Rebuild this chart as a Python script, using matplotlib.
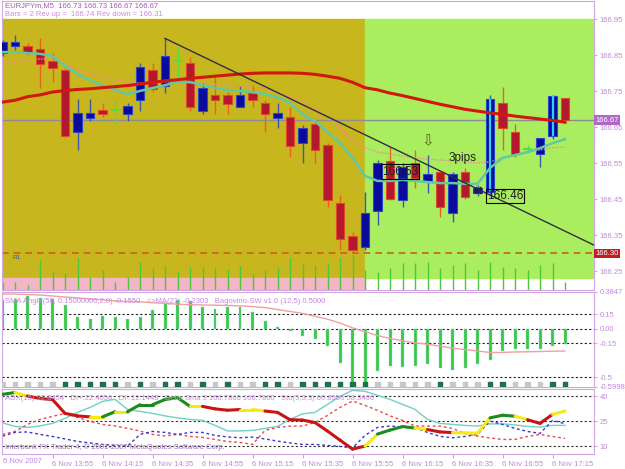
import numpy as np
import matplotlib.pyplot as plt
from matplotlib.patches import Rectangle

plt.rcParams['font.family'] = ['Liberation Sans', 'DejaVu Sans']

# EURJPYm M5, 6 Nov 2007 (bar 0 = 13:35)
opens = [166.856, 166.877, 166.877, 166.867, 166.835, 166.809, 166.637, 166.677, 166.698, 166.698,
         166.687, 166.726, 166.809, 166.766, 166.835, 166.828, 166.696, 166.739, 166.739, 166.706,
         166.746, 166.717, 166.677, 166.678, 166.607, 166.659, 166.601, 166.440, 166.349, 166.318,
         166.418, 166.557, 166.448, 166.550, 166.499, 166.527, 166.411, 166.527, 166.468, 166.471,
         166.717, 166.638, 166.589, 166.576, 166.627, 166.730]
highs = [166.893, 166.906, 166.883, 166.897, 166.856, 166.814, 166.728, 166.728, 166.717, 166.726,
         166.717, 166.828, 166.828, 166.897, 166.869, 166.846, 166.772, 166.791, 166.749, 166.765,
         166.768, 166.726, 166.717, 166.706, 166.656, 166.666, 166.606, 166.462, 166.360, 166.471,
         166.559, 166.596, 166.550, 166.587, 166.573, 166.531, 166.526, 166.537, 166.490, 166.740,
         166.761, 166.659, 166.601, 166.619, 166.740, 166.730]
lows = [166.848, 166.865, 166.851, 166.758, 166.777, 166.624, 166.587, 166.668, 166.678, 166.656,
        166.668, 166.696, 166.749, 166.746, 166.781, 166.696, 166.687, 166.687, 166.687, 166.706,
        166.706, 166.638, 166.647, 166.568, 166.551, 166.550, 166.429, 166.309, 166.300, 166.310,
        166.379, 166.448, 166.429, 166.481, 166.468, 166.400, 166.388, 166.450, 166.459, 166.460,
        166.587, 166.568, 166.579, 166.541, 166.617, 166.670]
closes = [166.886, 166.886, 166.856, 166.826, 166.816, 166.626, 166.689, 166.689, 166.687, 166.698,
          166.709, 166.818, 166.756, 166.848, 166.835, 166.706, 166.758, 166.726, 166.715, 166.739,
          166.726, 166.687, 166.689, 166.598, 166.649, 166.587, 166.448, 166.340, 166.309, 166.412,
          166.550, 166.451, 166.539, 166.508, 166.519, 166.428, 166.519, 166.457, 166.481, 166.729,
          166.647, 166.576, 166.589, 166.619, 166.738, 166.670]
signal_bars = [39, 44]

ma_red = [166.720, 166.725, 166.735, 166.740, 166.748, 166.752, 166.755, 166.757, 166.760, 166.763,
          166.766, 166.770, 166.775, 166.779, 166.782, 166.786, 166.789, 166.792, 166.795, 166.798,
          166.800, 166.801, 166.801, 166.801, 166.800, 166.797, 166.792, 166.786, 166.775, 166.760,
          166.754, 166.745, 166.738, 166.730, 166.722, 166.714, 166.707, 166.700, 166.695, 166.690,
          166.686, 166.681, 166.677, 166.673, 166.669, 166.664]
ma_teal = [166.859, 166.859, 166.856, 166.854, 166.848, 166.820, 166.798, 166.781, 166.767, 166.754,
           166.742, 166.751, 166.759, 166.767, 166.776, 166.776, 166.767, 166.759, 166.754, 166.751,
           166.748, 166.742, 166.734, 166.717, 166.687, 166.667, 166.637, 166.606, 166.565, 166.515,
           166.501, 166.501, 166.504, 166.501, 166.498, 166.495, 166.495, 166.493, 166.493, 166.537,
           166.565, 166.573, 166.581, 166.592, 166.606, 166.617]
ma_pink = [166.826, 166.831, 166.837, 166.840, 166.840, 166.826, 166.809, 166.798, 166.790, 166.781,
           166.776, 166.773, 166.773, 166.776, 166.776, 166.773, 166.773, 166.770, 166.767, 166.765,
           166.762, 166.756, 166.748, 166.734, 166.723, 166.703, 166.676, 166.648, 166.615, 166.593,
           166.581, 166.576, 166.570, 166.565, 166.562, 166.559, 166.556, 166.554, 166.551, 166.554,
           166.565, 166.573, 166.581, 166.587, 166.593, 166.595]
volume = [8, 8, 5, 30, 18, 17, 32, 13, 20, 8, 13, 28, 22, 25, 18, 23, 23, 23, 21, 24,
          17, 20, 23, 33, 27, 25, 27, 32, 35, 20, 18, 22, 27, 27, 28, 22, 25, 27, 20, 28,
          23, 22, 20, 25, 27, 8]

bid_price = 166.67
r1_price = 166.30
price_ticks = [166.95, 166.85, 166.75, 166.65, 166.55, 166.45, 166.35, 166.25]
trend_x = [13, 47.3]
trend_p = [166.897, 166.323]

# SMA angle panel
angle_hist = [0.296, 0.313, 0.340, 0.320, 0.307, 0.252, 0.126, 0.102, 0.133, 0.119,
              0.102, 0.126, 0.194, 0.255, 0.296, 0.286, 0.221, 0.204, 0.228, 0.228,
              0.170, 0.082, 0.017, -0.027, -0.078, -0.102, -0.173, -0.350, -0.580, -0.5998,
              -0.442, -0.384, -0.394, -0.384, -0.367, -0.411, -0.428, -0.401, -0.367, -0.326,
              -0.231, -0.204, -0.214, -0.204, -0.180, -0.155]
angle_ma = [0.360, 0.360, 0.355, 0.350, 0.340, 0.330, 0.320, 0.310, 0.300, 0.290,
            0.285, 0.280, 0.270, 0.265, 0.255, 0.250, 0.247, 0.245, 0.242, 0.238,
            0.230, 0.220, 0.200, 0.180, 0.160, 0.130, 0.100, 0.060, 0.010, -0.030,
            -0.070, -0.100, -0.125, -0.145, -0.160, -0.180, -0.200, -0.215, -0.230, -0.245,
            -0.245, -0.240, -0.238, -0.235, -0.232, -0.230]
sw_state = [0, 0, 0, 0, 0, 1, 1, 1, 1, 1, 0, 1, 0, 1, 1, 0, 1, 0, 1, 0,
            0, 1, 1, 0, 1, 1, 1, 1, 1, 1, 0, 0, 0, 0, 0, 1, 0, 0, 0, 1,
            1, 0, 0, 0, 1, 1]
angle_levels = [0.15, 0.0, -0.15, -0.5]
angle_ticks = [0.3847, 0.15, 0.0, -0.15, -0.5, -0.5998]
angle_labels = ['0.3847', '0.15', '0.00', '-0.15', '-0.5', '-0.5998']

# ADX panel
adx = [41.0, 42.1, 40.0, 38.5, 37.9, 29.6, 28.1, 27.5, 27.5, 30.6,
       30.6, 34.8, 34.8, 37.9, 39.0, 33.8, 33.8, 32.3, 31.5, 31.9,
       31.9, 31.0, 30.2, 25.8, 25.6, 24.1, 19.0, 13.6, 8.2, 10.0,
       17.2, 19.6, 21.7, 20.8, 19.9, 18.5, 18.1, 17.9, 17.8, 26.9,
       28.5, 27.9, 25.8, 23.6, 29.0, 31.0]
adx_trend = "gyrrrrrygygggggyrrryyrrrrrrrrygggyrryyyggyrryg"
di_plus = [23.9, 21.8, 21.2, 22.1, 23.6, 26.6, 30.2, 33.2, 36.8, 38.0,
           32.0, 30.8, 29.6, 28.1, 26.9, 26.0, 25.4, 22.4, 19.1, 19.1,
           19.4, 20.6, 21.8, 26.0, 29.3, 30.2, 35.0, 39.8, 43.4, 42.8,
           40.4, 38.0, 35.0, 32.0, 26.0, 23.6, 23.0, 22.4, 22.0, 23.3,
           23.3, 22.7, 21.8, 21.4, 22.4, 22.4]
di_minus = [17.0, 18.8, 23.0, 26.0, 27.8, 29.6, 27.2, 24.8, 23.0, 22.1,
            20.6, 19.0, 17.0, 16.1, 17.0, 15.8, 15.2, 14.0, 12.8, 12.2,
            11.0, 19.4, 21.2, 22.0, 22.0, 24.2, 28.4, 33.2, 37.0, 34.4,
            31.4, 28.1, 25.4, 22.0, 22.0, 22.0, 20.6, 17.6, 16.0, 14.9,
            14.0, 14.0, 15.8, 17.0, 15.8, 14.6]
sto_line = [16.0, 18.2, 18.5, 17.0, 15.8, 14.3, 12.8, 11.9, 11.0, 10.4,
            10.0, 17.0, 18.8, 18.2, 17.0, 18.2, 18.2, 16.4, 15.5, 15.0,
            15.4, 14.3, 13.0, 11.9, 11.0, 11.0, 10.4, 9.8, 9.0, 16.4,
            21.2, 22.0, 21.5, 21.0, 18.2, 15.8, 15.0, 15.8, 17.0, 25.0,
            23.0, 20.6, 18.8, 17.6, 25.4, 23.4]
adx_levels = [40, 25, 10]

time_bars = [4, 8, 12, 16, 20, 24, 28, 32, 36, 40, 44]
time_labels = ['6 Nov 13:55', '6 Nov 14:15', '6 Nov 14:35', '6 Nov 14:55', '6 Nov 15:15',
               '6 Nov 15:35', '6 Nov 15:55', '6 Nov 16:15', '6 Nov 16:35', '6 Nov 16:55',
               '6 Nov 17:15']

# colours
LAB = '#c585dc'
FRAME = '#d2a6e2'
YELLOW = '#c8b61e'
GREEN = '#aaee60'
PINK = '#f2b6c6'
UP = '#0a0a9c'
DOWN = '#b4182e'

W, H = 625, 469


def panel(top, bottom, left=2, right=594):
    return fig.add_axes([left / W, 1 - bottom / H, (right - left) / W, (bottom - top) / H])


fig = plt.figure(figsize=(6.25, 4.69), dpi=100)
ax = panel(1.3, 290)
ax2 = panel(291.7, 386.7)
ax3 = panel(389, 454.3)

x = np.arange(len(opens))
x0, x1 = -0.04, 47.32
p_lo, p_hi = 166.198, 167.0
box_top, strip_top, split = 166.95, 166.232, 29

for a in (ax, ax2, ax3):
    a.set_xlim(x0, x1)
    for s in a.spines.values():
        s.set_color(FRAME)
    a.yaxis.tick_right()
    a.tick_params(axis='y', colors=FRAME, labelcolor=LAB, labelsize=5.5, length=2, pad=2)
    a.tick_params(axis='x', bottom=False, labelbottom=False)

# ---- main price panel ----
ax.set_ylim(p_lo, p_hi)
ax.add_patch(Rectangle((x0, strip_top), split - x0, box_top - strip_top, color=YELLOW, zorder=0))
ax.add_patch(Rectangle((x0, p_lo), split - x0, strip_top - p_lo, color=PINK, zorder=0))
ax.add_patch(Rectangle((split, strip_top), x1 - split, box_top - strip_top, color=GREEN, zorder=0))

ax.vlines(x, 0, np.array(volume) / 288.7, transform=ax.get_xaxis_transform(),
          color='#4cc83c', lw=1, zorder=1)
ax.axhline(bid_price, color='#8c8c9c', lw=1, zorder=1)
ax.axhline(r1_price, color='#c8601e', lw=1.2, ls=(0, (4, 3)), zorder=1)

for i in x:
    o, h, l, c = opens[i], highs[i], lows[i], closes[i]
    if c > o:
        ax.vlines(i, l, h, color='#3c58a8', lw=1, zorder=3)
        ax.add_patch(Rectangle((i - 0.33, o), 0.66, c - o, facecolor=UP,
                               edgecolor='#2a48c8', lw=0.8, zorder=4))
        if i in signal_bars:
            ax.vlines(i, o, c, color='#20d8ff', lw=1.6, zorder=5)
    elif c < o:
        ax.vlines(i, l, h, color='#e8641c', lw=1, zorder=3)
        ax.add_patch(Rectangle((i - 0.33, c), 0.66, o - c, facecolor=DOWN,
                               edgecolor='#e04a28', lw=0.8, zorder=4))
    else:
        ax.vlines(i, l, h, color='#50e040', lw=1, zorder=3)
        ax.hlines(c, i - 0.33, i + 0.33, color='#50e040', lw=1.4, zorder=4)

ax.plot(x, ma_pink, color='#f08a8a', lw=1, ls=(0, (1, 1)), zorder=6)
ax.plot(x, ma_teal, color='#62c8a2', lw=1.8, zorder=6)
ax.plot(x, ma_red, color='#d0180c', lw=2.2, zorder=6)
ax.plot(trend_x, trend_p, color='#303040', lw=1, zorder=7)

ax.text(30.35, 166.527, '166.53', fontsize=8.5, color='#202020', va='center', zorder=8,
        bbox=dict(boxstyle='square,pad=0.1', fc='none', ec='black', lw=0.8))
ax.text(38.75, 166.459, '166.46', fontsize=8.5, color='#202020', va='center', zorder=8,
        bbox=dict(boxstyle='square,pad=0.1', fc='none', ec='black', lw=0.8))
ax.text(35.7, 166.566, '3pips', fontsize=8.5, color='#202020', va='center', zorder=8)
ax.text(34, 166.612, '\u21e9', fontsize=11, color='#5a6418', ha='center', va='center',
        family='DejaVu Sans', zorder=8)
ax.plot([38], [166.476], marker='x', ms=5, mew=2, color='#202048', zorder=8)
ax.text(0.8, 166.288, 'R1', fontsize=4.5, color='#3850a0', va='center', zorder=8)

ax.set_yticks(price_ticks)
ax.set_yticklabels([f'{p:.2f}' for p in price_ticks])
ax.text(1.002, bid_price, f'{bid_price:.2f}', transform=ax.get_yaxis_transform(), fontsize=5.5,
        color='white', va='center', bbox=dict(boxstyle='square,pad=0.15', fc='#b068c8', ec='none'))
ax.text(1.002, r1_price, f'{r1_price:.2f}', transform=ax.get_yaxis_transform(), fontsize=5.5,
        color='white', va='center', bbox=dict(boxstyle='square,pad=0.15', fc='#c01c24', ec='none'))
ax.text(0.005, 0.984, 'EURJPYm,M5  166.73 166.73 166.67 166.67', transform=ax.transAxes,
        fontsize=5.5, color='#a858b8', va='center')
ax.text(0.005, 0.953, 'Bars = 2 Rev up =  166.74 Rev down = 166.31', transform=ax.transAxes,
        fontsize=5.5, color='#d088e0', va='center')

# ---- SMA angle panel ----
ax2.set_ylim(-0.5998, 0.3847)
for lv in angle_levels:
    ax2.axhline(lv, color='#202020', lw=0.8, ls=(0, (2, 2)), zorder=1)
ax2.bar(x, angle_hist, width=0.24, color='#3cc83c', edgecolor='#90d8e8', lw=0.3, zorder=2)
ax2.plot(x, angle_ma, color='#f0a0a0', lw=1, zorder=3)
cols = ['#c8c8c8' if s == 0 else '#1e6e50' for s in sw_state]
ax2.scatter(x, [-0.577] * len(x), marker='s', s=9, c=cols, zorder=4)
ax2.set_yticks(angle_ticks)
ax2.set_yticklabels(angle_labels)
ax2.text(0.005, 0.9, 'SMA Angle(50, 0.15000000,2.0) -0.1550   =>MA(21) -0.2303   Bagovino-SW v1.0 (12,5) 0.5000',
         transform=ax2.transAxes, fontsize=5.5, color='#c888dc', va='center')

# ---- ADX panel ----
ax3.set_ylim(5.1, 44.2)
for lv in adx_levels:
    ax3.axhline(lv, color='#303030', lw=0.8, ls=(0, (2, 2)), zorder=1)
ax3.plot(x, di_plus, color='#72d0c4', lw=1, zorder=2)
ax3.plot(x, di_minus, color='#f04848', lw=1, ls=(0, (2, 2)), zorder=2)
ax3.plot(x, sto_line, color='#3434d8', lw=1, ls=(0, (2, 2)), zorder=2)
seg_col = {'g': '#1e8a1e', 'y': '#f4ec10', 'r': '#c81414'}
for i in range(len(adx) - 1):
    ax3.plot(x[i:i + 2], adx[i:i + 2], color=seg_col[adx_trend[i]], lw=2.2,
             solid_capstyle='round', zorder=3)
ax3.set_yticks(adx_levels)
ax3.set_yticklabels([str(v) for v in adx_levels])
ax3.text(0.005, 0.86, 'ADX(15) 32.8454   DI+:22.4056   DI-:12.1448   Delta Sma 3 166.7860 166.7860   Sto(5,3,3) 60.8556 58.3466',
         transform=ax3.transAxes, fontsize=5.5, color='#c888dc', va='center', zorder=4)
ax3.text(0.005, 0.11, 'Interbank FX Trader 4, \u00a9 2001-2007 MetaQuotes Software Corp.',
         transform=ax3.transAxes, fontsize=5.5, color='#a070b8', va='center', zorder=4)

ax3.set_xticks(time_bars)
ax3.set_xticklabels(time_labels)
ax3.tick_params(axis='x', bottom=True, labelbottom=True, colors=FRAME, labelcolor=LAB,
                labelsize=5.5, length=3, pad=1.5)
for lab in ax3.get_xticklabels():
    lab.set_ha('left')
ax3.text(0.002, -0.06, '6 Nov 2007', transform=ax3.transAxes, fontsize=5.5, color=LAB,
         va='top', ha='left')

fig.savefig('out.png', dpi=100)
